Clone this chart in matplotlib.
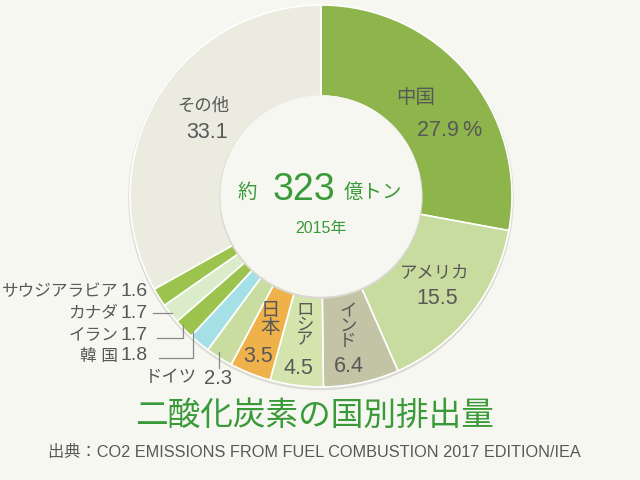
import matplotlib.pyplot as plt
from matplotlib.patches import Circle

FAM = ['Liberation Sans', 'Noto Sans CJK JP', 'DejaVu Sans']
plt.rcParams['font.family'] = FAM

countries = ['中国', 'アメリカ', 'インド', 'ロシア', '日本', 'ドイツ',
             '韓 国', 'イラン', 'カナダ', 'サウジアラビア', 'その他']
shares = [27.9, 15.5, 6.4, 4.5, 3.5, 2.3, 1.8, 1.7, 1.7, 1.6, 33.1]
colors = ['#8db54b', '#c7dc9e', '#c3c3a5', '#d3e4ad', '#efb24a', '#c9dda0',
          '#a5e0e6', '#9cc34e', '#dbeccb', '#9cc34e', '#ebebdf']
total = 323
year = 2015

bg = '#f7f7f2'
txt = '#585858'
green = '#3a9a3a'

fig = plt.figure(figsize=(6.4, 4.8), dpi=100, facecolor=bg)
ax = fig.add_axes([0, 0, 1, 1])


def Y(py):
    # pixel row -> data y
    return 480 - py


cx, cy = 321, Y(196)
R, r = 191, 100

# faint shadow round the ring
ax.add_patch(Circle((cx, cy - 1.5), R + 1, color='#dcdcd4', zorder=0))
ax.pie(shares, colors=colors, startangle=90, counterclock=False,
       center=(cx, cy), radius=R, frame=True,
       wedgeprops=dict(width=R - r, edgecolor='white', linewidth=1.2))
ax.set_xlim(0, 640)
ax.set_ylim(0, 480)
ax.set_aspect('equal')
ax.axis('off')
ax.add_patch(Circle((cx, cy - 1), r + 1, color='#d8d8d0', zorder=3))
ax.add_patch(Circle((cx, cy), r, color=bg, zorder=4))

# center
ax.text(247, Y(193), '約', fontsize=14, color=green, ha='center', va='center', zorder=5)
ax.text(304, Y(190), str(total), fontsize=27, color=green, ha='center', va='center', zorder=5)
ax.text(373, Y(193), '億トン', fontsize=14, color=green, ha='center', va='center', zorder=5)
ax.text(cx, Y(229), f'{year}年', fontsize=11.5, color=green, ha='center', va='center', zorder=5)

kw = dict(color=txt, ha='center', va='center', fontsize=12.5, zorder=5)
nw = dict(color=txt, ha='center', va='center', fontsize=15.5, zorder=5)
ax.text(416, Y(98), countries[0], **dict(kw, fontsize=14))
ax.text(450, Y(130), f'{shares[0]}\u2009%', **nw)
ax.text(435, Y(273), countries[1], **kw)
ax.text(437, Y(298), f'{shares[1]}', **nw)
ax.text(348, Y(327), '\n'.join(countries[2]), linespacing=1.0, **kw)
ax.text(349, Y(366), f'{shares[2]}', **nw)
ax.text(305, Y(325), '\n'.join(countries[3]), linespacing=0.95, **kw)
ax.text(298, Y(369), f'{shares[3]}', **nw)
ax.text(270, Y(320), '\n'.join(countries[4]), linespacing=1.0, **dict(kw, fontsize=14))
ax.text(258, Y(357), f'{shares[4]}', **nw)
ax.text(203, Y(106), countries[10], **kw)
ax.text(207, Y(132), f'{shares[10]}', **nw)

# small countries on the left: name + value
left = [(9, 292), (8, 313), (7, 335), (6, 356)]
for i, py in left:
    ax.text(118, Y(py), countries[i], color=txt, ha='right', va='center', fontsize=12, zorder=5)
    ax.text(148, Y(py), f'{shares[i]}', color=txt, ha='right', va='center', fontsize=14, zorder=5)
ax.text(197, Y(378), countries[5], color=txt, ha='right', va='center', fontsize=12.5, zorder=5)
ax.text(204, Y(378), f'{shares[5]}', color=txt, ha='left', va='center', fontsize=14.5, zorder=5)

lc = dict(color='#888888', lw=0.9, zorder=5)
ax.plot([153, 172], [Y(313), Y(313)], **lc)
ax.plot([157, 183, 183], [Y(338), Y(338), Y(325)], **lc)
ax.plot([159, 193, 193], [Y(358), Y(358), Y(332)], **lc)
ax.plot([219, 219], [Y(352), Y(368)], **lc)

ax.text(315, Y(416), '二酸化炭素の国別排出量', fontsize=23.5, color=green,
        ha='center', va='center', zorder=5)
ax.text(314, Y(453), '出典：CO2 EMISSIONS FROM FUEL COMBUSTION 2017 EDITION/IEA',
        fontsize=11.7, color=txt, ha='center', va='center', zorder=5)

fig.savefig('out.png', dpi=100, facecolor=bg)
